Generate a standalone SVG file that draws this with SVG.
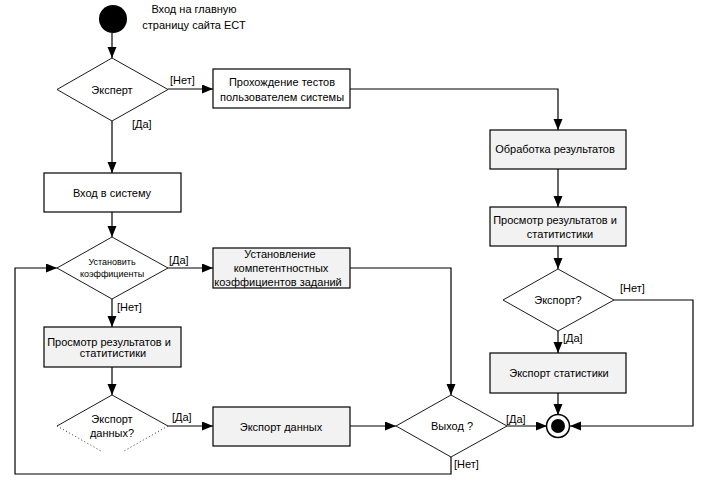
<svg xmlns="http://www.w3.org/2000/svg" width="709" height="492" viewBox="0 0 709 492">
<defs>
<marker id="ah" markerUnits="userSpaceOnUse" markerWidth="12" markerHeight="10" refX="11" refY="4.5" orient="auto">
<path d="M0,0 L11,4.5 L0,9 z" fill="#000"/>
</marker>
<style>
text{font-family:"Liberation Sans",Arial,sans-serif;font-size:11px;fill:#000}
.m{text-anchor:middle}
.s{font-size:9px}
.box{stroke:#000;stroke-width:1.2;fill:#fff}
.g{fill:#f2f2f2}
.dia{stroke:#000;stroke-width:0.9;fill:#fff}
.c{fill:none;stroke:#000;stroke-width:1.2;marker-end:url(#ah)}
</style>
</defs>
<rect width="709" height="492" fill="#fff"/>
<g id="connectors">
<path class="c" d="M112,33 V58"/>
<path class="c" d="M168,89 H213"/>
<path class="c" d="M112,121 V173"/>
<path class="c" d="M350,89 H558 V130"/>
<path class="c" d="M558,169 V207"/>
<path class="c" d="M558,246 V269"/>
<path class="c" d="M614,300 H693 V426 H570"/>
<path class="c" d="M558,331 V353"/>
<path class="c" d="M558,393 V415"/>
<path class="c" d="M112,212 V237"/>
<path class="c" d="M168,268 H213"/>
<path class="c" d="M350,268 H451 V395"/>
<path class="c" d="M112,299 V327"/>
<path class="c" d="M112,367 V395"/>
<path class="c" d="M168,426 H213"/>
<path class="c" d="M350,426 H396"/>
<path class="c" d="M507,426 H547"/>
<path class="c" d="M451,457 V474 H15 V268 H57"/>
<text x="170" y="84">[Нет]</text>
<text x="132" y="128">[Да]</text>
<text x="169" y="264">[Да]</text>
<text x="117" y="311">[Нет]</text>
<text x="172" y="421">[Да]</text>
<text x="506" y="423">[Да]</text>
<text x="454" y="468">[Нет]</text>
<text x="620" y="292">[Нет]</text>
<text x="563" y="342">[Да]</text>
</g>
<g id="start">
<circle cx="113" cy="19" r="14" fill="#000"/>
<text class="m" x="194" y="13">Вход на главную</text>
<text class="m" x="194" y="29">страницу сайта ЕСТ</text>
</g>
<g id="expert">
<polygon class="dia" points="112,58 168,89.5 112,121 57,89.5"/>
<text class="m" x="112" y="94">Эксперт</text>
</g>
<g id="tests">
<rect class="box" x="213" y="69" width="137" height="39"/>
<text class="m" x="282" y="86">Прохождение тестов</text>
<text class="m" x="282" y="101">пользователем системы</text>
</g>
<g id="processing">
<rect class="box g" x="490" y="130" width="136" height="39"/>
<text class="m" x="555" y="153">Обработка результатов</text>
</g>
<g id="view-right">
<rect class="box g" x="490" y="207" width="136" height="39"/>
<text class="m" x="555" y="224">Просмотр результатов и</text>
<text class="m" x="560" y="238">статитистики</text>
</g>
<g id="export-q">
<polygon class="dia" points="558,269 614,300 558,331 503,300"/>
<text class="m" x="558" y="304">Экспорт?</text>
</g>
<g id="export-stats">
<rect class="box g" x="490" y="353" width="136" height="40"/>
<text class="m" x="559" y="377">Экспорт статистики</text>
</g>
<g id="end">
<circle cx="558" cy="426" r="11.5" fill="#fff" stroke="#000" stroke-width="1.5"/>
<circle cx="558" cy="426" r="7" fill="#000"/>
</g>
<g id="login">
<rect class="box" x="44" y="173" width="137" height="39"/>
<text class="m" x="112" y="197">Вход в систему</text>
</g>
<g id="set-coef">
<polygon class="dia" points="112,237 168,268 112,299 57,268"/>
<text class="m s" x="112" y="265">Установить</text>
<text class="m s" x="112" y="277">коэффициенты</text>
</g>
<g id="establish">
<rect class="box g" x="213" y="248" width="137" height="40"/>
<text class="m" x="280" y="258">Установление</text>
<text class="m" x="281" y="272">компетентностных</text>
<text class="m" x="278" y="286">коэффициентов заданий</text>
</g>
<g id="view-left">
<rect class="box g" x="44" y="327" width="137" height="40"/>
<text class="m" x="109" y="346">Просмотр результатов и</text>
<text class="m" x="113" y="357">статитистики</text>
</g>
<g id="export-data-q">
<path d="M57,426 L112,395 L168,426" fill="none" stroke="#000" stroke-width="0.9"/>
<path d="M57,426 L101,451 M168,426 L124,451" fill="none" stroke="#000" stroke-width="0.8" stroke-dasharray="1,2.5"/>
<text class="m" x="112" y="423">Экспорт</text>
<text class="m" x="112" y="437">данных?</text>
</g>
<g id="export-data">
<rect class="box g" x="213" y="407" width="137" height="39"/>
<text class="m" x="281" y="431">Экспорт данных</text>
</g>
<g id="exit-q">
<polygon class="dia" points="451,395 507,426 451,457 396,426"/>
<text class="m" x="452" y="430">Выход ?</text>
</g>
</svg>
